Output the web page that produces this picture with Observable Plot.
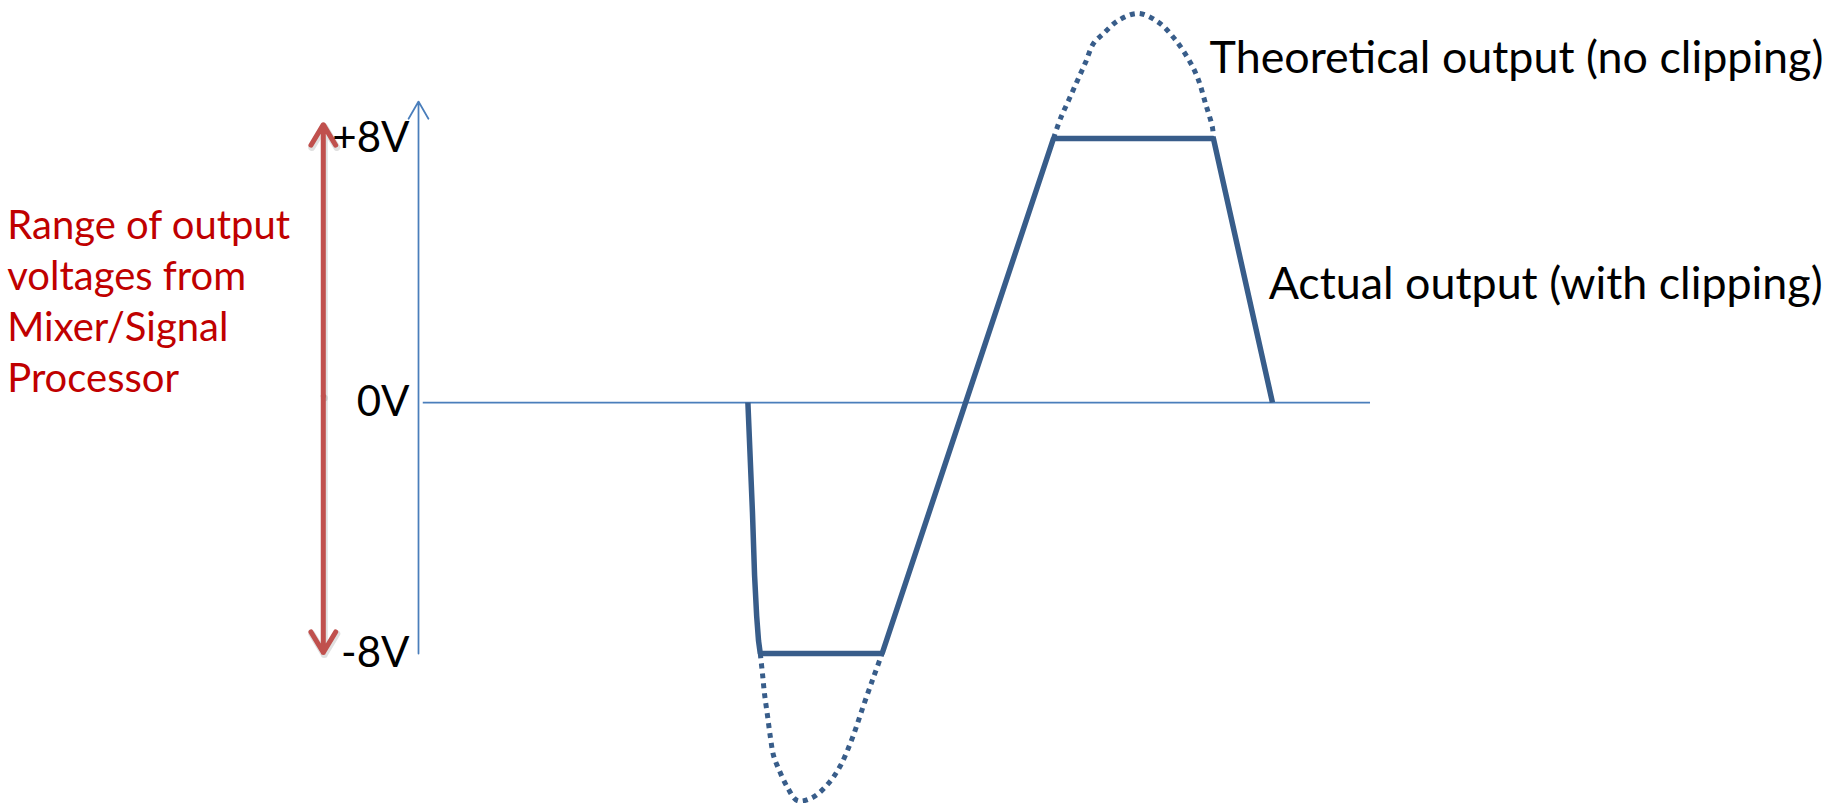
<!DOCTYPE html>
<html>
<head>
<meta charset="utf-8">
<script src="https://cdn.jsdelivr.net/npm/d3@7"></script>
<script src="https://cdn.jsdelivr.net/npm/@observablehq/plot@0.6"></script>
<style>
  html, body { margin: 0; padding: 0; background: #ffffff; }
  #chart svg { display: block; }
</style>
</head>
<body>
<div id="chart"></div>
<script>
// ---- data (time in arbitrary units, voltage in V) ----
const actualT = [34.6, 35.08, 35.3, 35.52, 35.72, 35.9, 48.7, 66.7, 83.5, 89.7];
const actualV = [0, -3.5, -5.5, -6.8, -7.6, -8, -8, 8, 8, 0];

const theoLowT = [35.9, 36.13, 36.34, 36.66, 36.97, 37.29, 37.82, 38.76, 39.81, 41.39, 43.07, 44.33, 45.59, 46.74, 47.79, 48.7];
const theoLowV = [-8, -8.64, -9.27, -9.98, -10.68, -11.25, -11.67, -12.27, -12.69, -12.59, -12.14, -11.57, -10.68, -9.66, -8.76, -8];

const theoHighT = [66.7, 67.44, 68.28, 69.22, 70.06, 70.9, 71.95, 73.53, 75.63, 77.73, 79.31, 80.78, 81.83, 82.67, 83.4, 83.5];
const theoHighV = [8, 8.61, 9.15, 9.76, 10.3, 10.88, 11.18, 11.58, 11.79, 11.52, 11.06, 10.45, 9.85, 9.06, 8.33, 8];

const tickValues = [8, 0, -8];
const tickLabels = ["+8V", "0V", "-8V"];

const axisTop = 9.12;          // top of the vertical axis arrow (V)
const rangeTop = 8.42;         // red range arrow ends (V)
const rangeBottom = -7.97;
const rangeT = -10;            // red arrow position (time units)

const rangeLabel = "Range of output\nvoltages from\nMixer/Signal\nProcessor";
const rangeLabelT = -43.2;
const rangeLabelV = 3.12;

const annotTexts = ["Theoretical output (no clipping)", "Actual output (with clipping)"];
const annotT = [83.1, 89.3];
const annotV = [10.0, 3.15];

// ---- tables built from the arrays ----
const actual = actualT.map((t, i) => ({t, v: actualV[i]}));
const theoLow = theoLowT.map((t, i) => ({t, v: theoLowV[i]}));
const theoHigh = theoHighT.map((t, i) => ({t, v: theoHighV[i]}));
const ticks = tickValues.map((v, i) => ({v, label: tickLabels[i]}));
const annots = annotTexts.map((text, i) => ({text, t: annotT[i], v: annotV[i]}));

const signalColor = "#385D8A";
const axisColor = "#4A7EBB";
const redArrow = "#C0504D";
const redText = "#C00000";
const font = "Lato, 'Open Sans', sans-serif";

const chart = Plot.plot({
  width: 1837,
  height: 803,
  axis: null,
  x: {type: "linear", domain: [0, 100], range: [418, 1370]},
  y: {type: "linear", domain: [-8, 0, 8], range: [653, 402, 138]},
  style: {background: "#ffffff", overflow: "visible"},
  marks: [
    // zero line
    Plot.ruleY([0], {x1: 0.5, x2: 100, stroke: axisColor, strokeWidth: 1.75}),
    // vertical axis with open arrowhead
    Plot.arrow([{x1: 0, y1: -8, x2: 0, y2: axisTop}], {
      x1: "x1", y1: "y1", x2: "x2", y2: "y2",
      stroke: axisColor, strokeWidth: 1.75, headLength: 17, headAngle: 60
    }),
    // soft shadow of the red range arrow
    Plot.arrow([{y1: 0.2, y2: rangeTop}, {y1: 0.2, y2: rangeBottom}], {
      x1: () => rangeT, x2: () => rangeT, y1: "y1", y2: "y2", dx: 1, dy: 2,
      stroke: "#000000", strokeOpacity: 0.12, strokeWidth: 7, headLength: 5.2, headAngle: 62
    }),
    // red double-headed range arrow
    Plot.arrow([{y1: 0.2, y2: rangeTop}, {y1: 0.2, y2: rangeBottom}], {
      x1: () => rangeT, x2: () => rangeT, y1: "y1", y2: "y2",
      stroke: redArrow, strokeWidth: 5, headLength: 7.2, headAngle: 62
    }),
    // theoretical (dotted)
    Plot.line(theoLow, {x: "t", y: "v", stroke: signalColor, strokeWidth: 5, strokeDasharray: "5,5", strokeLinecap: "butt", curve: "catmull-rom"}),
    Plot.line(theoHigh, {x: "t", y: "v", stroke: signalColor, strokeWidth: 5, strokeDasharray: "5,5", strokeLinecap: "butt", curve: "catmull-rom"}),
    // actual (solid)
    Plot.line(actual, {x: "t", y: "v", stroke: signalColor, strokeWidth: 5.5, strokeLinejoin: "miter", strokeLinecap: "butt"}),
    // tick labels
    Plot.text(ticks, {x: () => 0, y: "v", text: "label", textAnchor: "end", dx: -9, lineAnchor: "middle",
      fontSize: 42, fontFamily: font, fill: "#000000"}),
    // annotations
    Plot.text(annots, {x: "t", y: "v", text: "text", textAnchor: "start", lineAnchor: "bottom",
      fontSize: 44.8, fontFamily: font, fill: "#000000"}),
    // red range label
    Plot.text([rangeLabel], {x: () => rangeLabelT, y: () => rangeLabelV, text: d => d, textAnchor: "start",
      lineAnchor: "middle", lineHeight: 1.275, fontSize: 40, fontFamily: font, fill: redText})
  ]
});
document.getElementById("chart").appendChild(chart);
</script>
</body>
</html>
